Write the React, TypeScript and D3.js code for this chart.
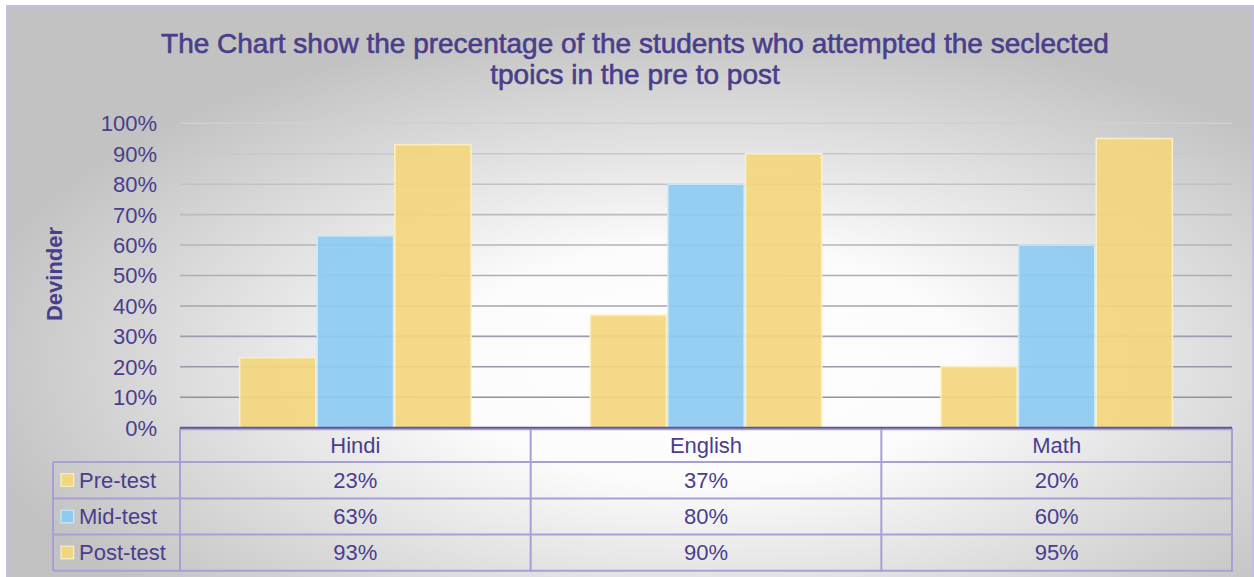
import React from "react";
import * as d3 from "d3";

const categories = ["Hindi", "English", "Math"];
const seriesNames = ["Pre-test", "Mid-test", "Post-test"];
const preTest = [0.23, 0.37, 0.2];
const midTest = [0.63, 0.8, 0.6];
const postTest = [0.93, 0.9, 0.95];
const yTicks = [0, 0.1, 0.2, 0.3, 0.4, 0.5, 0.6, 0.7, 0.8, 0.9, 1.0];
const titleLines = [
  "The Chart show the precentage of the students who attempted the seclected",
  "tpoics in the pre to post",
];
const yAxisTitle = "Devinder";

const seriesValues = [preTest, midTest, postTest];
const seriesFill = ["#F2D67E", "#8DCBF1", "#F2D67E"];
const seriesStroke = ["#FBF0C4", "#CBE8F9", "#FBF0C4"];

const W = 1254;
const H = 577;
const TEXT = "#4A3E8C";
const LINE = "#A99ED6";
const FONT = "Arial, 'Liberation Sans', Helvetica, sans-serif";

export default function App() {
  const plotL = 180;
  const plotR = 1232;
  const plotT = 123.3;
  const plotB = 427.7;

  const x0 = d3.scaleBand<string>().domain(categories).range([plotL, plotR]).padding(0);
  const bw = x0.bandwidth();
  const x1 = d3
    .scaleBand<string>()
    .domain(seriesNames)
    .range([bw * 0.168, bw * 0.832])
    .padding(0);
  const y = d3.scaleLinear().domain([0, 1]).range([plotB, plotT]);
  const fmt = d3.format(".0%");

  const headerTop = 428;
  const rowTops = [462, 498.5, 534.5];
  const rowH = 36;
  const tableBottom = 570.7;
  const legendL = 53;

  return (
    <svg
      width={W}
      height={H}
      style={{ position: "absolute", left: 0, top: 0, display: "block" }}
      fontFamily={FONT}
    >
      <defs>
        <radialGradient id="bg" cx="0.56" cy="0.62" r="0.6" fx="0.56" fy="0.62">
          <stop offset="0" stopColor="#ffffff" />
          <stop offset="0.35" stopColor="#fbfbfb" />
          <stop offset="1" stopColor="#c2c2c2" />
        </radialGradient>
        <linearGradient id="grid" gradientUnits="userSpaceOnUse" x1="0" y1={plotT} x2="0" y2={plotB}>
          <stop offset="0" stopColor="#cfcfd4" />
          <stop offset="1" stopColor="#8c8a9c" />
        </linearGradient>
      </defs>
      <rect x={0} y={0} width={W} height={H} fill="#ffffff" />
      <rect x={7} y={6} width={W - 8} height={H} fill="url(#bg)" stroke="#C3BCE3" strokeWidth={2} />

      {/* title */}
      {titleLines.map((t, i) => (
        <text
          key={i}
          x={635}
          y={53 + i * 31}
          textAnchor="middle"
          fontSize={28}
          fill={TEXT}
          stroke={TEXT}
          strokeWidth={0.6}
        >
          {t}
        </text>
      ))}

      {/* y axis title */}
      <text
        transform={`translate(62,274) rotate(-90)`}
        textAnchor="middle"
        fontSize={22}
        fontWeight="bold"
        fill={TEXT}
      >
        {yAxisTitle}
      </text>

      {/* gridlines */}
      {yTicks.slice(1).map((t) => (
        <line
          key={t}
          x1={plotL}
          x2={plotR}
          y1={y(t)}
          y2={y(t)}
          stroke="url(#grid)"
          strokeWidth={1.6}
        />
      ))}

      {/* tick labels */}
      {yTicks.map((t) => (
        <text
          key={t}
          x={157}
          y={y(t)}
          dy="0.36em"
          textAnchor="end"
          fontSize={22}
          fill={TEXT}
        >
          {fmt(t)}
        </text>
      ))}

      {/* bars */}
      {categories.map((c, ci) => (
        <g key={c} transform={`translate(${x0(c)},0)`}>
          {seriesNames.map((s, si) => {
            const v = seriesValues[si][ci];
            return (
              <rect
                key={s}
                x={(x1(s) as number) + 0.75}
                y={y(v)}
                width={x1.bandwidth() - 1.5}
                height={plotB - y(v)}
                fill={seriesFill[si]}
                fillOpacity={0.92}
                stroke={seriesStroke[si]}
                strokeWidth={1.5}
              />
            );
          })}
        </g>
      ))}

      {/* data table */}
      <g fill="none" stroke={LINE} strokeWidth={2}>
        <line x1={plotL} x2={plotR} y1={headerTop + 1.5} y2={headerTop + 1.5} strokeWidth={1.5} />
        <line x1={legendL} x2={plotR + 1} y1={rowTops[0]} y2={rowTops[0]} />
        {rowTops.slice(1).map((r) => (
          <line key={r} x1={legendL} x2={plotR + 1} y1={r} y2={r} />
        ))}
        <line x1={legendL} x2={plotR + 1} y1={tableBottom} y2={tableBottom} />
        <line x1={legendL} x2={legendL} y1={rowTops[0]} y2={tableBottom} />
        {[plotL, ...categories.map((c) => (x0(c) as number) + bw)].map((xv, i) => (
          <line key={i} x1={xv} x2={xv} y1={plotB} y2={tableBottom + 1} />
        ))}
      </g>
      {/* axis line */}
      <line x1={plotL} x2={plotR} y1={plotB} y2={plotB} stroke="#5E5399" strokeWidth={2} />

      {/* header labels */}
      {categories.map((c) => (
        <text
          key={c}
          x={(x0(c) as number) + bw / 2}
          y={(headerTop + rowTops[0]) / 2}
          dy="0.36em"
          textAnchor="middle"
          fontSize={22}
          fill={TEXT}
        >
          {c}
        </text>
      ))}

      {/* rows */}
      {seriesNames.map((s, si) => {
        const cy = rowTops[si] + rowH / 2;
        return (
          <g key={s}>
            <rect
              x={61}
              y={cy - 6.3}
              width={12.6}
              height={12.6}
              fill={seriesFill[si]}
              stroke={seriesStroke[si]}
              strokeWidth={1.2}
            />
            <text x={79} y={cy} dy="0.36em" fontSize={22} fill={TEXT}>
              {s}
            </text>
            {categories.map((c, ci) => (
              <text
                key={c}
                x={(x0(c) as number) + bw / 2}
                y={cy}
                dy="0.36em"
                textAnchor="middle"
                fontSize={22}
                fill={TEXT}
              >
                {fmt(seriesValues[si][ci])}
              </text>
            ))}
          </g>
        );
      })}
    </svg>
  );
}
